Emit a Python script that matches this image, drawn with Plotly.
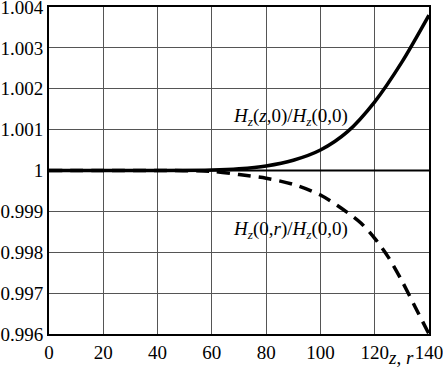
import plotly.graph_objects as go

# Data
z_vals = [0, 20, 40, 60, 70, 80, 90, 100, 110, 120, 130, 140]
hz_z0 = [1.0, 1.0, 1.0, 1.00001, 1.00004, 1.00011, 1.00025, 1.0005, 1.00095, 1.00168, 1.00265, 1.0038]

r_vals = [0, 20, 40, 60, 70, 80, 90, 100, 110, 115, 120, 125, 130, 135, 140]
hz_0r = [1.0, 1.0, 1.0, 0.99998, 0.9999, 0.99981, 0.99966, 0.9994, 0.99897, 0.99871,
         0.99834, 0.99788, 0.9973, 0.99665, 0.996]

x_ticks = [0, 20, 40, 60, 80, 100, 120, 140]
y_ticks = [0.996, 0.997, 0.998, 0.999, 1.0, 1.001, 1.002, 1.003, 1.004]
y_tick_text = ["0.996", "0.997", "0.998", "0.999", "1", "1.001", "1.002", "1.003", "1.004"]

FONT = "Liberation Serif, Times New Roman, DejaVu Serif, serif"
W, H = 443, 369
ML, MR, MT, MB = 49, 14, 7, 35
PW, PH = W - ML - MR, H - MT - MB

fig = go.Figure()
fig.add_hline(y=1.0, line=dict(color="black", width=2))
fig.add_trace(go.Scatter(x=z_vals, y=hz_z0, mode="lines",
                         line=dict(color="black", width=3.5, shape="spline", smoothing=0.8),
                         showlegend=False))
fig.add_trace(go.Scatter(x=r_vals, y=hz_0r, mode="lines",
                         line=dict(color="black", width=3.5, dash="13px,8px", shape="spline", smoothing=0.8),
                         showlegend=False))

fig.add_annotation(x=89, y=1.00132, xref="x", yref="y", showarrow=False,
                   text="<i>H</i><sub><i>z</i></sub>(<i>z</i>,0)/<i>H</i><sub><i>z</i></sub>(0,0)",
                   font=dict(family=FONT, size=19, color="black"))
fig.add_annotation(x=89, y=0.99855, xref="x", yref="y", showarrow=False,
                   text="<i>H</i><sub><i>z</i></sub>(0,<i>r</i>)/<i>H</i><sub><i>z</i></sub>(0,0)",
                   font=dict(family=FONT, size=19, color="black"))
fig.add_annotation(x=(387 - ML) / PW, y=-(346 - (H - MB)) / PH,
                   xref="paper", yref="paper", xanchor="left", yanchor="top", showarrow=False,
                   borderpad=0, text="<i>z</i>, <i>r</i>", font=dict(family=FONT, size=19, color="black"))

axis_common = dict(showgrid=True, gridcolor="#555", gridwidth=1, showline=True, mirror=True,
                   linecolor="black", linewidth=2, ticks="", zeroline=False, automargin=False,
                   ticklabeloverflow="allow",
                   tickfont=dict(family=FONT, size=19, color="black"))

fig.update_layout(
    width=W, height=H,
    margin=dict(l=ML, r=MR, t=MT, b=MB, autoexpand=False),
    paper_bgcolor="white", plot_bgcolor="white",
    font=dict(family=FONT, size=19, color="black"),
    xaxis=dict(range=[0, 140], tickvals=x_ticks, **axis_common),
    yaxis=dict(range=[0.996, 1.004], tickvals=y_ticks, ticktext=y_tick_text, **axis_common),
)

fig.write_html("out.html", config={"displayModeBar": False},
               post_script="document.body.style.margin='0';")
